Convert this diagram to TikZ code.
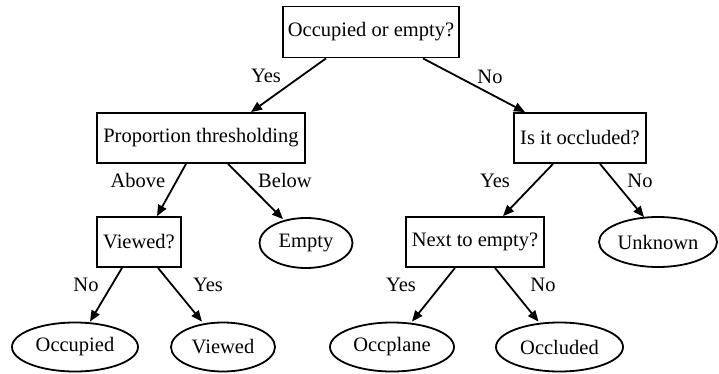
\documentclass[tikz,border=0pt]{standalone}
\usepackage{fontspec}
\setmainfont{Liberation Serif}
\usetikzlibrary{arrows.meta,shapes.geometric}
\begin{document}
\begin{tikzpicture}[x=1pt,y=-1pt,
  every node/.style={font=\fontsize{20.5}{24}\selectfont, inner sep=0pt},
  qbox/.style={draw, line width=1.8pt, rectangle, minimum height=50pt},
  leaf/.style={draw, line width=1.8pt, ellipse, minimum height=49pt},
  edge/.style={line width=1.8pt, -{Triangle[length=11pt,width=9pt]}},
  elabel/.style={}]
\useasboundingbox (0,0) rectangle (719,374);
% decision boxes
\node[qbox, minimum width=176pt, minimum height=51pt] (root) at (371,32) {Occupied or empty?};
\node[qbox, minimum width=208pt] (prop) at (201,138) {Proportion thresholding};
\node[qbox, minimum width=132pt] (occq) at (580,138) {Is it occluded?};
\node[qbox, minimum width=84pt] (viewq) at (139,242) {Viewed?};
\node[qbox, minimum width=138pt] (nextq) at (475,242) {Next to empty?};
% outcomes
\node[leaf, minimum width=93pt, minimum height=50pt] (empty) at (306,243) {Empty};
\node[leaf, minimum width=118pt, minimum height=50pt] (unknown) at (658,242) {Unknown};
\node[leaf, minimum width=126pt] (occupied) at (75,347) {Occupied};
\node[leaf, minimum width=104pt] (viewed) at (223,347) {Viewed};
\node[leaf, minimum width=124pt] (occplane) at (392,347) {Occplane};
\node[leaf, minimum width=127pt] (occluded) at (559.5,347) {Occluded};
% connectors
\draw[edge] ([xshift=-45pt]root.south) -- ([xshift=50pt]prop.north);
\draw[edge] ([xshift=52pt]root.south) -- ([xshift=-55pt]occq.north);
\draw[edge] ([xshift=-15pt]prop.south) -- ([xshift=18pt]viewq.north);
\draw[edge] ([xshift=27pt]prop.south) -- ([xshift=-23pt,yshift=-2pt]empty.north);
\draw[edge] ([xshift=-27pt]occq.south) -- ([xshift=28pt]nextq.north);
\draw[edge] ([xshift=20pt]occq.south) -- ([xshift=-14pt,yshift=-1pt]unknown.north);
\draw[edge] ([xshift=-17pt]viewq.south) -- ([xshift=15pt]occupied.north);
\draw[edge] ([xshift=19pt]viewq.south) -- ([xshift=-21pt]viewed.north);
\draw[edge] ([xshift=-20pt]nextq.south) -- ([xshift=20pt]occplane.north);
\draw[edge] ([xshift=20pt]nextq.south) -- ([xshift=-21pt]occluded.north);
% branch labels
\node[elabel] (l1) at (266,76) {Yes};
\node[elabel] (l2) at (490,77) {No};
\node[elabel] (l3) at (138,180) {Above};
\node[elabel] (l4) at (285,180) {Below};
\node[elabel] (l5) at (495,181) {Yes};
\node[elabel] (l6) at (640,181) {No};
\node[elabel] (l7) at (86,285) {No};
\node[elabel] (l8) at (208,285) {Yes};
\node[elabel] (l9) at (401,285) {Yes};
\node[elabel] (l10) at (543,285) {No};
\end{tikzpicture}
\end{document}
